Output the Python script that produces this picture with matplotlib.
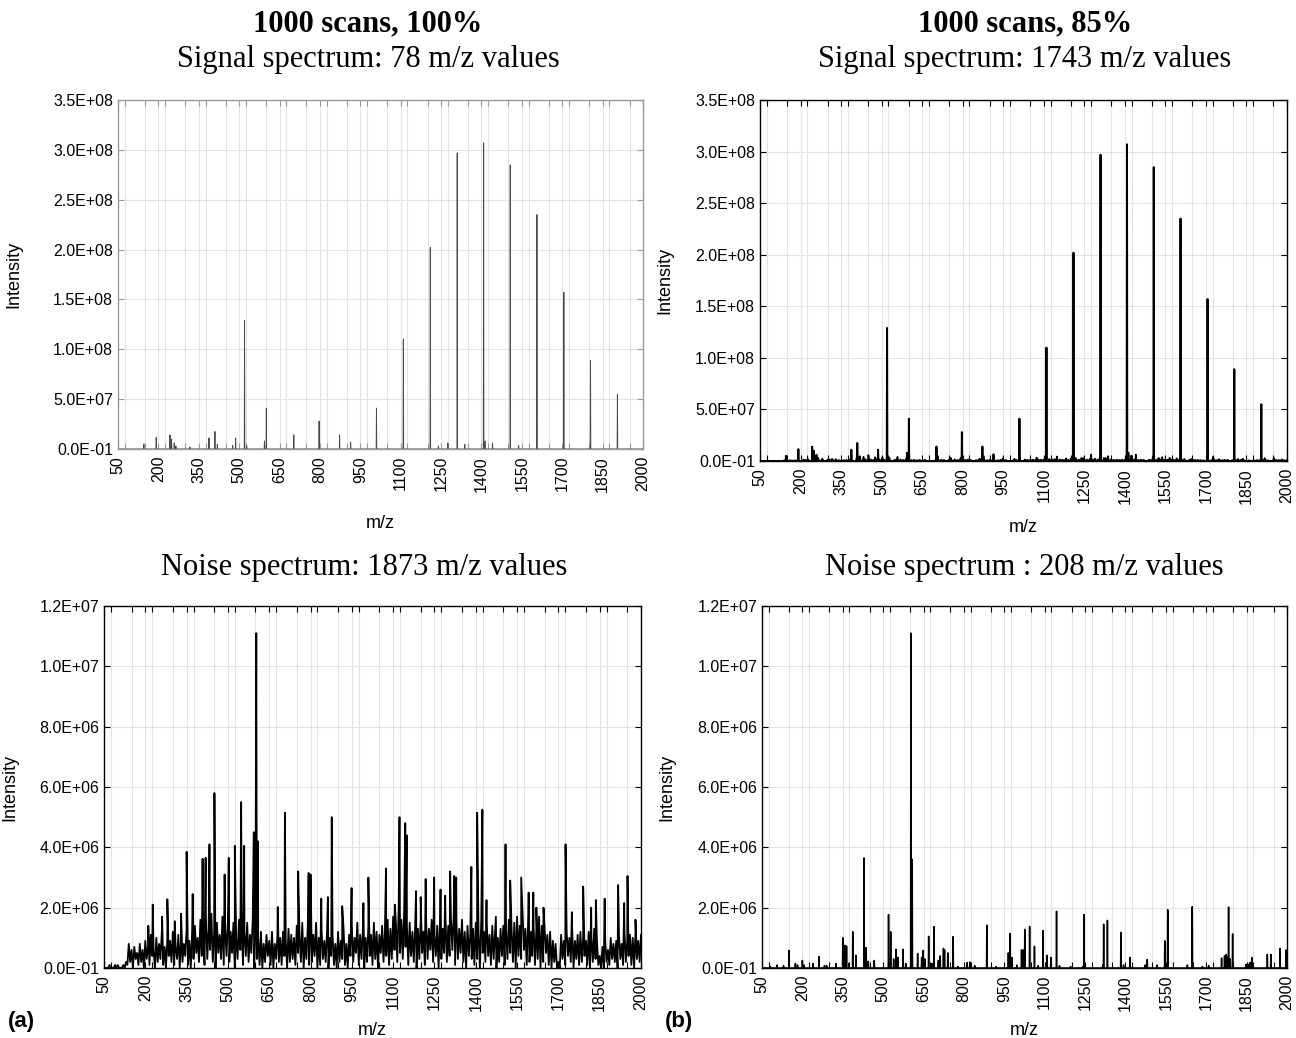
import numpy as np
import matplotlib
matplotlib.use("Agg")
import matplotlib.pyplot as plt
from matplotlib.ticker import MultipleLocator, FixedLocator, FixedFormatter

# ---- data ----
# signal spectrum, 100% (intensity in 1e7)
signal_a_mz = [146, 192, 243, 249, 259, 265, 317, 388, 410, 419, 476, 487, 520, 528,
               594, 601, 703, 797, 873, 914, 1010, 1110, 1210, 1240, 1275, 1310, 1338,
               1408, 1413, 1441, 1507, 1538, 1606, 1706, 1805, 1905]
signal_a_int = [0.5, 1.15, 1.4, 1.0, 0.6, 0.3, 0.2, 1.1, 1.75, 0.45, 0.35, 1.1, 12.9, 0.3,
                0.8, 4.1, 1.4, 2.8, 1.4, 0.65, 4.1, 11.0, 20.2, 0.3, 0.6, 29.7, 0.45,
                30.7, 0.8, 0.6, 28.5, 0.35, 23.5, 15.7, 8.9, 5.5]

# noise spectrum, 100%: tall spikes (intensity in 1e6)
noise_a_spike_mz = [211, 227, 261, 280, 307, 330, 350, 372, 408, 419, 433, 451, 488, 503,
                    525, 548, 559, 594, 603, 609, 681, 707, 755, 793, 800, 839, 863, 877,
                    915, 949, 992, 1010, 1074, 1106, 1123, 1144, 1149, 1183, 1200, 1218,
                    1249, 1272, 1289, 1307, 1322, 1329, 1384, 1405, 1424, 1439, 1473, 1508,
                    1525, 1565, 1592, 1609, 1620, 1646, 1726, 1749, 1790, 1819, 1836, 1868,
                    1917, 1939, 1951, 1980]
noise_a_spike_int = [1.4, 2.1, 1.7, 2.28, 1.55, 1.8, 3.85, 2.45, 3.62, 3.65, 4.1, 5.8, 3.1, 3.65,
                     4.05, 5.5, 4.05, 4.5, 11.1, 4.2, 2.02, 5.15, 3.2, 3.15, 3.1, 2.3, 2.35, 5.0,
                     2.05, 2.65, 2.15, 3.0, 3.3, 2.1, 5.0, 4.8, 4.4, 2.55, 2.35, 2.95,
                     3.0, 2.6, 2.4, 3.2, 3.05, 3.0, 3.35, 5.15, 5.25, 2.25, 1.7, 4.1,
                     2.9, 3.0, 2.5, 2.5, 2.0, 2.0, 4.1, 1.85, 2.7, 2.0, 2.25, 2.3,
                     2.75, 2.15, 3.05, 1.6]
# noise spectrum, 100%: dense background, local tops (m/z 50, 60, ...) and
# local bottoms (m/z 55, 65, ...), intensity in 1e5
noise_a_hi = [0, 0, 1, 0, 1, 1, 0, 1, 2, 8,
              6, 7, 5, 8, 6, 9, 7, 11, 6, 10,
              8, 12, 7, 10, 9, 12, 7, 11, 10, 8,
              13, 9, 12, 14, 10, 16, 12, 17, 13, 18,
              12, 15, 11, 17, 13, 16, 12, 15, 10, 16,
              13, 12, 15, 11, 16, 14, 10, 12, 8, 11,
              9, 12, 8, 11, 10, 12, 9, 13, 11, 10,
              14, 11, 15, 10, 14, 16, 11, 15, 10, 13,
              9, 12, 10, 11, 8, 12, 9, 13, 8, 11,
              14, 10, 15, 11, 13, 10, 14, 11, 15, 12,
              11, 14, 12, 16, 13, 17, 15, 20, 16, 19,
              14, 15, 12, 14, 13, 16, 12, 15, 13, 16,
              11, 14, 15, 13, 17, 14, 16, 18, 15, 13,
              16, 12, 14, 11, 13, 15, 12, 16, 12, 15,
              11, 14, 12, 10, 13, 14, 12, 16, 13, 15,
              17, 14, 18, 13, 15, 12, 14, 13, 17, 14,
              13, 11, 12, 9, 8, 2, 11, 9, 12, 10,
              13, 9, 11, 12, 10, 9, 12, 10, 13, 9,
              4, 7, 9, 6, 10, 8, 9, 11, 8, 12,
              9, 11, 10, 12, 9, 11]
noise_a_lo = [0, 0, 0, 0, 0, 0, 0, 0, 1, 2,
              0, 3, 1, 2, 0, 3, 1, 4, 0, 2,
              3, 1, 0, 4, 2, 1, 3, 0, 2, 4,
              1, 0, 3, 5, 2, 4, 1, 3, 6, 2,
              0, 5, 3, 1, 4, 2, 5, 0, 3, 6,
              1, 4, 2, 5, 0, 3, 1, 0, 2, 4,
              1, 0, 3, 2, 1, 4, 0, 2, 3, 1,
              5, 2, 0, 3, 1, 2, 4, 0, 1, 3,
              2, 0, 4, 1, 0, 2, 3, 1, 0, 4,
              2, 5, 1, 3, 0, 2, 4, 1, 3, 0,
              5, 2, 4, 1, 3, 6, 2, 5, 3, 7,
              1, 4, 2, 0, 3, 5, 1, 3, 6, 2,
              4, 0, 3, 5, 2, 4, 6, 1, 3, 5,
              2, 0, 4, 3, 1, 3, 0, 5, 2, 4,
              1, 3, 0, 2, 4, 1, 3, 5, 2, 0,
              4, 3, 6, 1, 2, 4, 1, 3, 0, 2,
              5, 1, 0, 2, 0, 0, 3, 1, 4, 2,
              0, 3, 1, 2, 4, 1, 0, 2, 3, 1,
              0, 0, 2, 1, 3, 2, 0, 3, 1, 2,
              4, 1, 0, 3, 2]

# noise spectrum, 85% (intensity in 1e6)
noise_b_mz = [80, 106, 130, 150, 174, 182, 200, 206, 240, 262, 282, 290, 325, 350, 358, 364,
              373, 387, 399, 429, 437, 445, 467, 520, 528, 539, 548, 555, 574, 584, 603, 608,
              628, 643, 649, 655, 669, 681, 689, 705, 712, 724, 728, 740, 760, 778, 812, 822,
              840, 885, 920, 965, 971, 979, 997, 1014, 1020, 1026, 1044, 1062, 1076, 1094,
              1109, 1123, 1144, 1155, 1196, 1241, 1246, 1316, 1319, 1333, 1383, 1393, 1417,
              1473, 1481, 1517, 1546, 1557, 1630, 1648, 1686, 1709, 1757, 1768, 1774, 1778,
              1783, 1789, 1798, 1848, 1856, 1863, 1869, 1927, 1940, 1974, 1997]
noise_b_int = [0.05, 0.1, 0.08, 0.58, 0.15, 0.1, 0.25, 0.1, 0.15, 0.38, 0.08, 0.08, 0.15, 1.0, 0.75, 0.73,
               0.15, 1.2, 0.42, 3.65, 0.68, 0.22, 0.25, 1.77, 1.2, 0.3, 0.62, 0.35, 0.62, 0.15, 11.1, 3.6,
               0.48, 0.35, 0.58, 0.3, 1.05, 0.15, 1.37, 0.25, 0.4, 0.65, 0.6, 0.5, 1.04, 0.05, 0.18, 0.2,
               0.08, 1.42, 0.05, 0.5, 1.14, 0.35, 0.1, 0.6, 0.6, 1.28, 1.38, 0.72, 0.08, 1.24,
               0.42, 0.35, 1.88, 0.08, 0.05, 0.05, 1.77, 0.1, 1.45, 1.58, 1.18, 0.1, 0.35,
               0.1, 0.28, 0.1, 0.9, 1.93, 0.1, 2.03, 0.05, 0.08, 0.33, 0.4, 0.45, 0.38,
               2.02, 0.3, 1.13, 0.12, 0.12, 0.18, 0.35, 0.45, 0.45, 0.65, 0.6]

titles_top = ["1000 scans, 100%", "1000 scans, 85%"]
subtitles = ["Signal spectrum: 78 m/z values", "Signal spectrum: 1743 m/z values",
             "Noise spectrum: 1873 m/z values", "Noise spectrum : 208 m/z values"]
x_ticks = list(range(50, 2001, 150))
sig_ticks = [0, 5e7, 1e8, 1.5e8, 2e8, 2.5e8, 3e8, 3.5e8]
sig_labels = ["0.0E-01", "5.0E+07", "1.0E+08", "1.5E+08", "2.0E+08", "2.5E+08", "3.0E+08", "3.5E+08"]
noi_ticks = [0, 2e6, 4e6, 6e6, 8e6, 1e7, 1.2e7]
noi_labels = ["0.0E-01", "2.0E+06", "4.0E+06", "6.0E+06", "8.0E+06", "1.0E+07", "1.2E+07"]

# ---- build spectra ----
grid = np.arange(50, 2001)


def sparse_line(mz, vals, scale):
    y = np.zeros(len(grid))
    y[np.array(mz) - 50] = np.array(vals) * scale
    return y


sig_a = sparse_line(signal_a_mz, signal_a_int, 1e7)
noi_b = sparse_line(noise_b_mz, noise_b_int, 1e6)

hi_mz = 50 + 10 * np.arange(len(noise_a_hi))
lo_mz = 55 + 10 * np.arange(len(noise_a_lo))
na_mz = np.concatenate([hi_mz, lo_mz, noise_a_spike_mz])
na_y = np.concatenate([np.array(noise_a_hi) * 1e5, np.array(noise_a_lo) * 1e5,
                       np.array(noise_a_spike_int) * 1e6])
order = np.argsort(na_mz, kind="stable")
na_mz, na_y = na_mz[order], na_y[order]

# 85% signal: the 100% signal plus every noise value that is not in the 85% noise
nb = np.array(noise_b_mz)
in_nb = np.array([np.min(np.abs(nb - m)) <= 1 for m in na_mz])
sb_base = np.where(in_nb, 0.0, na_y)

# ---- figure ----
plt.rcParams["font.family"] = "Liberation Sans"
fig = plt.figure(figsize=(12.96, 10.38), dpi=100)
W, H = 1296.0, 1038.0


def make_ax(l, r, t, b):
    return fig.add_axes([l / W, 1 - b / H, (r - l) / W, (b - t) / H])


ax_tl = make_ax(118, 643, 100, 449)
ax_tr = make_ax(760, 1287, 100, 461)
ax_bl = make_ax(104, 641, 606, 968)
ax_br = make_ax(762, 1287, 606, 968)

ax_tl.plot(grid, sig_a, color="#4a4a4a", lw=0.7)
ax_tr.plot(na_mz, sb_base, color="black", lw=1.2)
ax_tr.plot(grid, sig_a, color="black", lw=1.4)
ax_bl.plot(na_mz, na_y, color="black", lw=1.3)
ax_br.plot(grid, noi_b, color="black", lw=1.1)

setup = [(ax_tl, sig_ticks, sig_labels, 3.5e8, -0.183, -0.19, "#9a9a9a"),
         (ax_tr, sig_ticks, sig_labels, 3.5e8, -0.165, -0.16, "black"),
         (ax_bl, noi_ticks, noi_labels, 1.2e7, -0.16, -0.15, "black"),
         (ax_br, noi_ticks, noi_labels, 1.2e7, -0.165, -0.15, "black")]
for ax, yt, yl, ymax, ylx, xly, fc in setup:
    ax.set_xlim(50, 2000)
    ax.set_ylim(0, ymax)
    ax.xaxis.set_major_locator(FixedLocator(x_ticks))
    ax.xaxis.set_minor_locator(MultipleLocator(75))
    ax.yaxis.set_major_locator(FixedLocator(yt))
    ax.yaxis.set_major_formatter(FixedFormatter(yl))
    ax.set_xticklabels([str(v) for v in x_ticks], rotation=90)
    ax.tick_params(axis="both", which="both", direction="in", top=True, right=True,
                   labelsize=11.5, color=fc, length=4, width=0.8)
    ax.tick_params(axis="x", which="minor", length=4)
    ax.tick_params(axis="x", which="major", pad=5)
    ax.grid(True, which="both", axis="x", color="#e3e3e3", lw=0.8)
    ax.grid(True, which="major", axis="y", color="#e3e3e3", lw=0.8)
    ax.set_axisbelow(True)
    for s in ax.spines.values():
        s.set_color(fc)
        s.set_linewidth(1.0)
    ax.set_ylabel("Intensity", fontsize=13)
    ax.yaxis.set_label_coords(ylx, 0.5)
    ax.set_xlabel("m/z", fontsize=13)
    ax.xaxis.set_label_coords(0.5, xly)

serif = "Liberation Serif"
fig.text(368 / W, 1 - 24 / H, titles_top[0], family=serif, fontweight="bold", fontsize=22,
         ha="center", va="center")
fig.text(1025 / W, 1 - 24 / H, titles_top[1], family=serif, fontweight="bold", fontsize=22,
         ha="center", va="center")
fig.text(368 / W, 1 - 60 / H, subtitles[0], family=serif, fontsize=22, ha="center", va="center")
fig.text(1025 / W, 1 - 60 / H, subtitles[1], family=serif, fontsize=22, ha="center", va="center")
fig.text(364 / W, 1 - 568 / H, subtitles[2], family=serif, fontsize=22, ha="center", va="center")
fig.text(1024 / W, 1 - 568 / H, subtitles[3], family=serif, fontsize=22, ha="center", va="center")
fig.text(8 / W, 1 - 1021 / H, "(a)", fontweight="bold", fontsize=16, ha="left", va="center")
fig.text(665 / W, 1 - 1021 / H, "(b)", fontweight="bold", fontsize=16, ha="left", va="center")

fig.savefig("out.png", dpi=100)
